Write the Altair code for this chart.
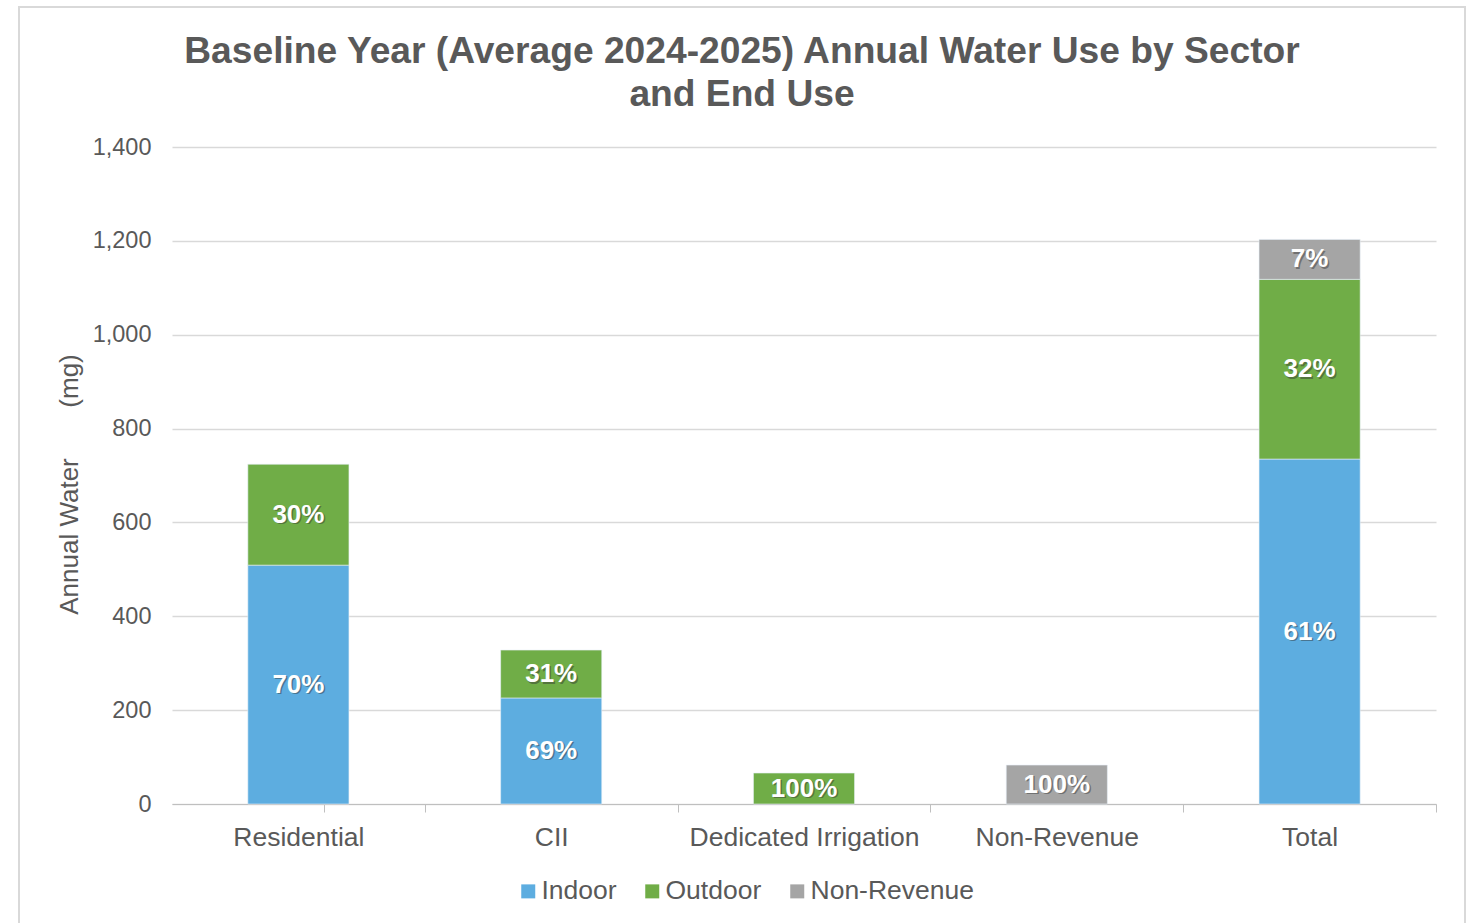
import altair as alt
import pandas as pd

categories = ["Residential", "CII", "Dedicated Irrigation", "Non-Revenue", "Total"]
end_uses = ["Indoor", "Outdoor", "Non-Revenue"]
indoor = [509, 226, 0, 0, 735]
outdoor = [215, 102, 66, 0, 383]
non_revenue = [0, 0, 0, 83, 85]
indoor_pct = ["70%", "69%", "", "", "61%"]
outdoor_pct = ["30%", "31%", "100%", "", "32%"]
nonrev_pct = ["", "", "", "100%", "7%"]
colors = ["#5DADE0", "#70AD47", "#A5A5A5"]
y_ticks = [0, 200, 400, 600, 800, 1000, 1200, 1400]
title_lines = ["Baseline Year (Average 2024-2025) Annual Water Use by Sector", "and End Use"]

rows = []
for i, cat in enumerate(categories):
    for k, (vals, pcts) in enumerate(zip([indoor, outdoor, non_revenue],
                                         [indoor_pct, outdoor_pct, nonrev_pct])):
        if vals[i] > 0:
            rows.append({"cat": cat, "use": end_uses[k], "ord": k,
                         "value": vals[i], "pct": pcts[i]})
df = pd.DataFrame(rows)

GRAY = "#595959"
FONT = "Liberation Sans"
STEP_OFF = 0.3 * 1264 / 5

x_enc = alt.X("cat:N", sort=categories,
              scale=alt.Scale(paddingInner=0.6, paddingOuter=0.3),
              axis=alt.Axis(title=None, labelAngle=0, labelFontSize=26.5,
                            labelColor=GRAY, labelPadding=12, labelLimit=400,
                            bandPosition=1, tickExtra=True, tickOffset=STEP_OFF,
                            labelOffset=-STEP_OFF,
                            tickSize=8, tickColor="#BFBFBF", domainColor="#BFBFBF",
                            grid=False))
y_scale = alt.Scale(domain=[0, 1400])

bars = alt.Chart(df).mark_bar(stroke="#E8F0F8", strokeWidth=0.6).encode(
    x=x_enc,
    y=alt.Y("value:Q", stack="zero", scale=y_scale,
            axis=alt.Axis(values=y_ticks, format=",.0f", domain=False, ticks=False,
                          grid=True, gridColor="#D9D9D9", gridWidth=1.3,
                          labelFontSize=23.5, labelColor=GRAY, labelPadding=21,
                          title="Annual Water\u00a0\u00a0\u00a0\u00a0\u00a0\u00a0\u00a0(mg)",
                          titleFontSize=26, titleY=337,
                          titleFontWeight="normal", titleColor=GRAY,
                          titlePadding=10)),
    color=alt.Color("use:N", scale=alt.Scale(domain=end_uses, range=colors),
                    legend=alt.Legend(title=None, orient="none", legendX=343,
                                      legendY=731, direction="horizontal",
                                      symbolType="square", symbolSize=196,
                                      symbolStrokeWidth=0, labelFontSize=26.5,
                                      labelColor=GRAY, columnPadding=22,
                                      labelOffset=0, labelLimit=400)),
    order=alt.Order("ord:Q"),
)

text_base = alt.Chart(df).transform_stack(
    stack="value", as_=["y0", "y1"], groupby=["cat"],
    sort=[alt.SortField("ord", order="ascending")]
).transform_calculate(mid="(datum.y0 + datum.y1) / 2")

shadow = text_base.mark_text(font=FONT, fontSize=26, fontWeight="bold",
                             color="#333333", opacity=0.45, dx=1.5, dy=1.5).encode(
    x=alt.X("cat:N", sort=categories), y=alt.Y("mid:Q", scale=y_scale), text="pct:N")
labels = text_base.mark_text(font=FONT, fontSize=26, fontWeight="bold",
                             color="white").encode(
    x=alt.X("cat:N", sort=categories), y=alt.Y("mid:Q", scale=y_scale), text="pct:N")

one = pd.DataFrame({"f": [0]})
frame = alt.Chart(one).mark_rect(
    filled=False, stroke="#D9D9D9", strokeWidth=2).encode(
    x=alt.value(-153), x2=alt.value(1293), y=alt.value(-140), y2=alt.value(790))

title1 = alt.Chart(one).mark_text(
    font=FONT, fontSize=37.2, fontWeight="bold", color=GRAY,
    align="center", baseline="middle").encode(
    x=alt.value(570), y=alt.value(-95), text=alt.value(title_lines[0]))
title2 = alt.Chart(one).mark_text(
    font=FONT, fontSize=37.2, fontWeight="bold", color=GRAY,
    align="center", baseline="middle").encode(
    x=alt.value(570), y=alt.value(-52), text=alt.value(title_lines[1]))

chart = alt.layer(frame, bars, shadow, labels, title1, title2).properties(
    width=1264, height=657,
    autosize=alt.AutoSizeParams(type="none"),
    padding={"left": 172, "top": 147, "right": 32, "bottom": 119},
).configure(font=FONT).configure_view(stroke=None)

chart.save("out.html", embed_options={"renderer": "svg", "actions": False})
